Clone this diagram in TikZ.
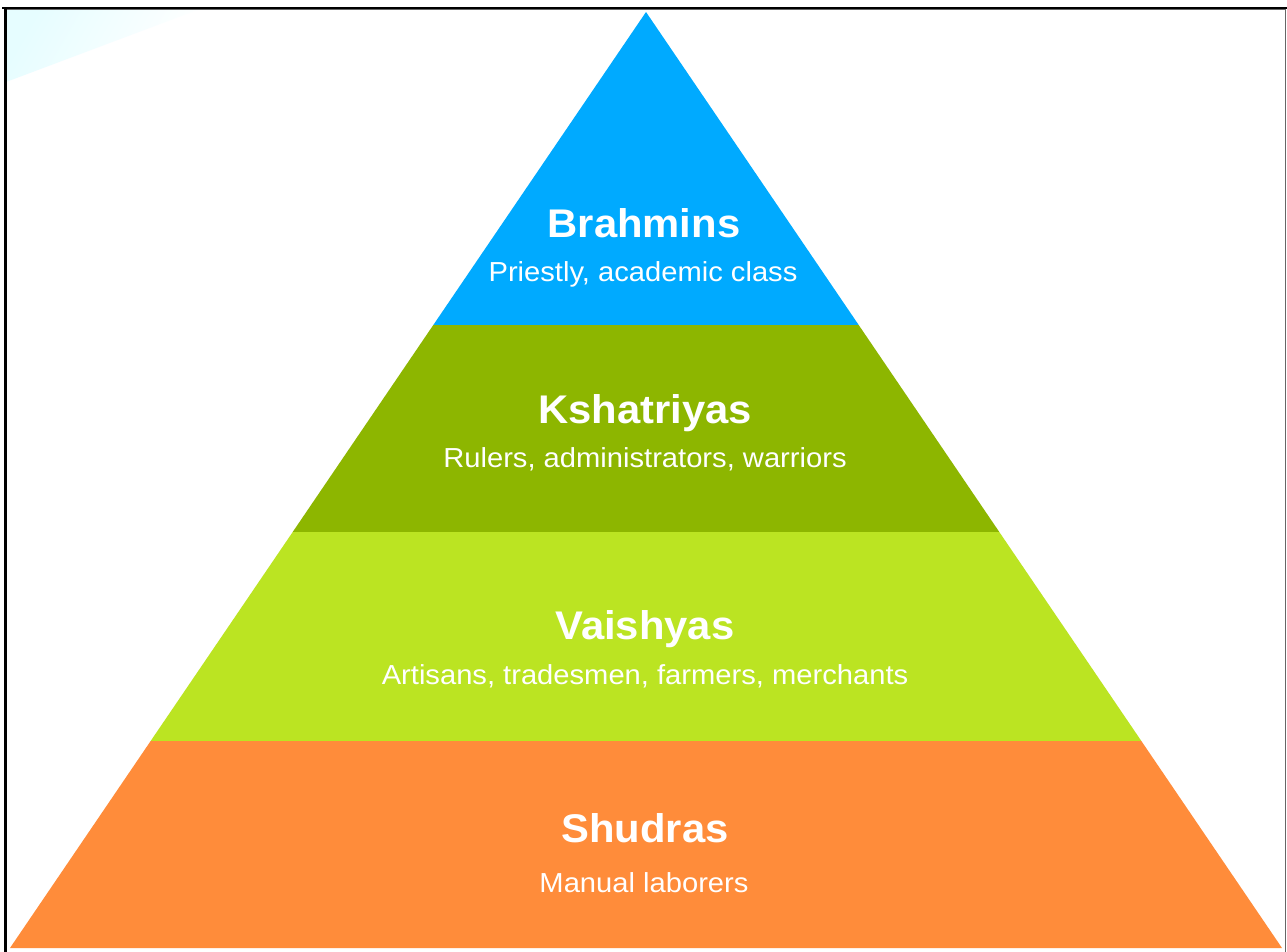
\documentclass[tikz,border=0pt]{standalone}
\usepackage{fontspec}
\setmainfont{Liberation Sans}
\definecolor{brblue}{RGB}{0,170,255}
\definecolor{ksgreen}{RGB}{141,182,0}
\definecolor{vagreen}{RGB}{187,228,34}
\definecolor{shorange}{RGB}{255,140,58}
\definecolor{corner}{RGB}{230,253,255}
\newcommand{\wtitle}[1]{\scalebox{1.045}[1]{#1}}
\newcommand{\wsub}[1]{\scalebox{1.06}[1]{#1}}
\begin{document}
\begin{tikzpicture}[x=1pt,y=-1pt,
  title/.style={text=white,anchor=base,inner sep=0pt,font=\bfseries\fontsize{40}{48}\selectfont},
  sub/.style={text=white,anchor=base,inner sep=0pt,font=\fontsize{27.5}{33}\selectfont}]
\useasboundingbox (0,0) rectangle (1287,951);
\fill[white] (0,0) rectangle (1287,951);
% faint corner shading
\shade[left color=corner,right color=white,shading angle=60] (6,9) -- (200,9) -- (6,82) -- cycle;
% frame
\draw[gray!80!black,line width=0.8pt] (6,9.5) -- (1285.3,9.5) -- (1285.3,960);
\draw[black,line width=2.4pt] (2,8) -- (1287,8);
\draw[black,line width=2.4pt] (5.3,7) -- (5.3,960);
% pyramid bands
\fill[brblue] (646,12) -- (858.7,325) -- (433.3,325) -- cycle;
\fill[ksgreen] (433.3,325) -- (858.7,325) -- (999.3,532) -- (292.7,532) -- cycle;
\fill[vagreen] (292.7,532) -- (999.3,532) -- (1141.35,741) -- (150.65,741) -- cycle;
\fill[shorange] (150.65,741) -- (1141.35,741) -- (1282,948) -- (10,948) -- cycle;
% labels
\node[title] (t1) at (644,237) {\wtitle{Brahmins}};
\node[sub] (s1) at (643,281) {\wsub{Priestly, academic class}};
\node[title] (t2) at (645,423) {\wtitle{Kshatriyas}};
\node[sub] (s2) at (645,467) {\wsub{Rulers, administrators, warriors}};
\node[title] (t3) at (645,639) {\wtitle{Vaishyas}};
\node[sub] (s3) at (645,684) {\wsub{Artisans, tradesmen, farmers, merchants}};
\node[title] (t4) at (645,842) {\wtitle{Shudras}};
\node[sub] (s4) at (644,892) {\wsub{Manual laborers}};
\end{tikzpicture}
\end{document}
